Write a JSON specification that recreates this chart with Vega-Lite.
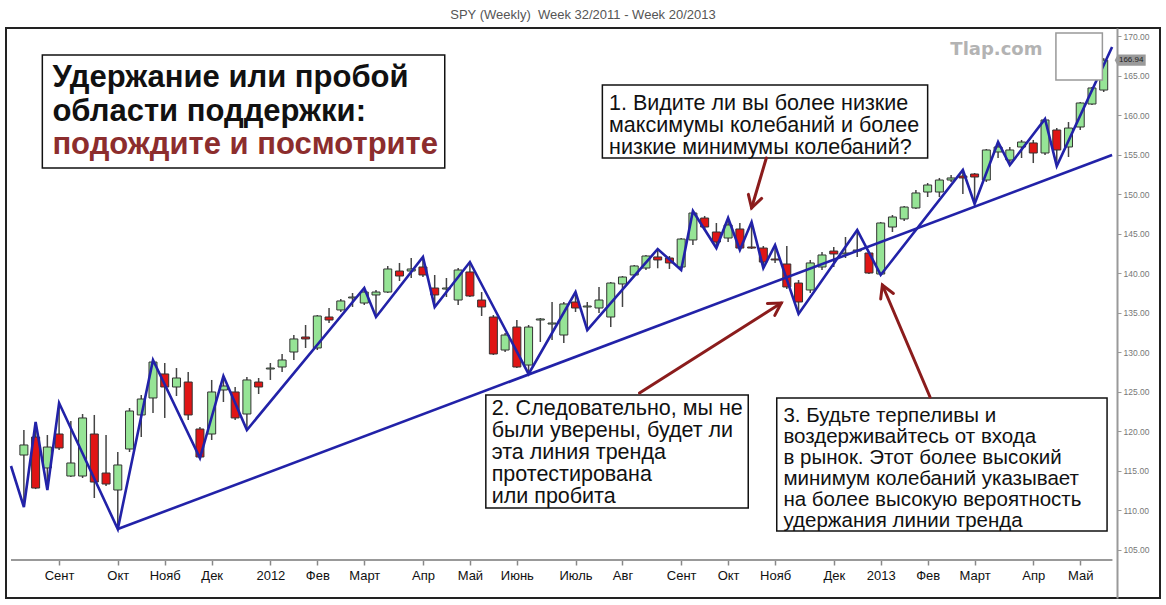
{
  "$schema": "https://vega.github.io/schema/vega-lite/v6.json",
  "width": 1154,
  "height": 570,
  "autosize": {"type": "none"},
  "padding": {"left": 6, "top": 28, "right": 6, "bottom": 7},
  "background": "white",
  "config": {"view": {"stroke": "#222", "strokeWidth": 2}, "font": "Liberation Sans"},
  "title": {"text": "SPY (Weekly)\u00a0 Week 32/2011 - Week 20/2013", "fontSize": 13, "fontWeight": "normal", "color": "#555", "font": "Liberation Sans", "offset": 6, "anchor": "middle"},
  "datasets": {
    "candles": [
      {"d":"2011-08-12","o":116.96,"h":120.13,"l":110.38,"c":118.23},
      {"d":"2011-08-19","o":119.24,"h":121.14,"l":112.65,"c":112.78},
      {"d":"2011-08-26","o":115.32,"h":119.49,"l":112.53,"c":117.97},
      {"d":"2011-09-02","o":119.62,"h":123.54,"l":117.59,"c":117.85},
      {"d":"2011-09-09","o":114.30,"h":121.27,"l":114.18,"c":115.95},
      {"d":"2011-09-16","o":114.30,"h":122.15,"l":114.05,"c":121.65},
      {"d":"2011-09-23","o":119.62,"h":122.03,"l":111.52,"c":113.54},
      {"d":"2011-09-30","o":114.68,"h":119.49,"l":113.04,"c":113.29},
      {"d":"2011-10-07","o":112.53,"h":117.34,"l":107.59,"c":115.70},
      {"d":"2011-10-14","o":117.72,"h":122.91,"l":117.34,"c":122.53},
      {"d":"2011-10-21","o":122.03,"h":124.56,"l":119.24,"c":124.05},
      {"d":"2011-10-28","o":124.18,"h":128.99,"l":122.28,"c":128.73},
      {"d":"2011-11-04","o":127.22,"h":128.61,"l":121.65,"c":125.57},
      {"d":"2011-11-11","o":125.57,"h":127.97,"l":124.43,"c":126.71},
      {"d":"2011-11-18","o":126.20,"h":127.47,"l":121.39,"c":122.03},
      {"d":"2011-11-25","o":120.25,"h":120.51,"l":116.58,"c":116.71},
      {"d":"2011-12-02","o":119.62,"h":126.46,"l":118.86,"c":124.94},
      {"d":"2011-12-09","o":125.19,"h":126.96,"l":123.67,"c":125.70},
      {"d":"2011-12-16","o":124.94,"h":125.57,"l":121.39,"c":121.65},
      {"d":"2011-12-23","o":122.15,"h":126.84,"l":120.13,"c":126.46},
      {"d":"2011-12-30","o":126.20,"h":126.71,"l":124.68,"c":125.57},
      {"d":"2012-01-06","o":127.85,"h":128.61,"l":126.46,"c":127.97},
      {"d":"2012-01-13","o":128.10,"h":129.75,"l":127.47,"c":128.99},
      {"d":"2012-01-20","o":130.00,"h":132.15,"l":128.99,"c":131.65},
      {"d":"2012-01-27","o":131.90,"h":133.42,"l":130.51,"c":131.65},
      {"d":"2012-02-03","o":130.51,"h":134.68,"l":130.25,"c":134.56},
      {"d":"2012-02-10","o":134.43,"h":135.57,"l":133.67,"c":134.05},
      {"d":"2012-02-17","o":135.32,"h":136.71,"l":135.06,"c":136.46},
      {"d":"2012-02-24","o":136.84,"h":137.47,"l":135.70,"c":136.96},
      {"d":"2012-03-02","o":136.20,"h":138.10,"l":135.95,"c":137.59},
      {"d":"2012-03-09","o":137.22,"h":137.85,"l":134.43,"c":137.59},
      {"d":"2012-03-16","o":137.59,"h":140.89,"l":137.47,"c":140.51},
      {"d":"2012-03-23","o":140.25,"h":141.27,"l":138.99,"c":139.62},
      {"d":"2012-03-30","o":140.25,"h":141.90,"l":139.37,"c":140.51},
      {"d":"2012-04-06","o":140.76,"h":142.03,"l":139.49,"c":139.75},
      {"d":"2012-04-13","o":138.10,"h":139.75,"l":135.70,"c":137.22},
      {"d":"2012-04-20","o":137.97,"h":139.37,"l":136.96,"c":138.10},
      {"d":"2012-04-27","o":136.58,"h":140.63,"l":135.95,"c":140.38},
      {"d":"2012-05-04","o":140.13,"h":141.39,"l":136.96,"c":137.09},
      {"d":"2012-05-11","o":136.58,"h":137.59,"l":134.56,"c":135.70},
      {"d":"2012-05-18","o":134.43,"h":134.68,"l":129.62,"c":129.75},
      {"d":"2012-05-25","o":130.25,"h":132.41,"l":130.00,"c":132.15},
      {"d":"2012-06-01","o":133.16,"h":134.05,"l":127.97,"c":128.10},
      {"d":"2012-06-08","o":128.35,"h":133.42,"l":127.22,"c":133.16},
      {"d":"2012-06-15","o":134.05,"h":134.30,"l":131.27,"c":134.18},
      {"d":"2012-06-22","o":133.54,"h":136.33,"l":131.52,"c":133.67},
      {"d":"2012-06-29","o":132.15,"h":136.33,"l":131.14,"c":136.08},
      {"d":"2012-07-06","o":136.33,"h":137.59,"l":135.06,"c":135.57},
      {"d":"2012-07-13","o":135.70,"h":136.33,"l":132.78,"c":135.82},
      {"d":"2012-07-20","o":135.57,"h":138.23,"l":134.94,"c":136.58},
      {"d":"2012-07-27","o":134.43,"h":138.86,"l":133.16,"c":138.73},
      {"d":"2012-08-03","o":138.61,"h":139.62,"l":135.70,"c":139.49},
      {"d":"2012-08-10","o":139.75,"h":141.01,"l":139.49,"c":140.89},
      {"d":"2012-08-17","o":140.63,"h":142.28,"l":140.38,"c":142.15},
      {"d":"2012-08-24","o":142.03,"h":143.04,"l":140.60,"c":141.65},
      {"d":"2012-08-31","o":141.90,"h":142.15,"l":140.51,"c":141.27},
      {"d":"2012-09-07","o":140.76,"h":144.43,"l":140.38,"c":144.30},
      {"d":"2012-09-14","o":144.18,"h":147.85,"l":143.54,"c":147.59},
      {"d":"2012-09-21","o":146.96,"h":147.22,"l":145.57,"c":145.82},
      {"d":"2012-09-28","o":145.19,"h":146.33,"l":143.16,"c":143.92},
      {"d":"2012-10-05","o":144.43,"h":146.96,"l":143.92,"c":146.08},
      {"d":"2012-10-12","o":145.57,"h":146.33,"l":142.91,"c":143.16},
      {"d":"2012-10-19","o":143.29,"h":146.46,"l":143.04,"c":143.16},
      {"d":"2012-10-26","o":143.16,"h":143.42,"l":140.63,"c":141.39},
      {"d":"2012-11-02","o":141.77,"h":143.54,"l":141.27,"c":141.65},
      {"d":"2012-11-09","o":141.14,"h":143.42,"l":137.97,"c":138.23},
      {"d":"2012-11-16","o":138.73,"h":139.11,"l":134.81,"c":136.33},
      {"d":"2012-11-23","o":137.85,"h":141.65,"l":137.47,"c":141.27},
      {"d":"2012-11-30","o":140.76,"h":142.66,"l":140.38,"c":142.28},
      {"d":"2012-12-07","o":142.78,"h":143.29,"l":140.76,"c":142.41},
      {"d":"2012-12-14","o":142.41,"h":144.56,"l":141.90,"c":142.53},
      {"d":"2012-12-21","o":142.78,"h":145.44,"l":142.03,"c":142.91},
      {"d":"2012-12-28","o":142.53,"h":142.66,"l":139.87,"c":140.00},
      {"d":"2013-01-04","o":139.87,"h":146.46,"l":139.75,"c":146.33},
      {"d":"2013-01-11","o":145.82,"h":147.34,"l":145.19,"c":147.09},
      {"d":"2013-01-18","o":146.84,"h":148.48,"l":146.58,"c":148.35},
      {"d":"2013-01-25","o":148.23,"h":150.51,"l":148.10,"c":150.13},
      {"d":"2013-02-01","o":150.25,"h":151.39,"l":149.62,"c":151.14},
      {"d":"2013-02-08","o":150.25,"h":152.03,"l":149.62,"c":151.77},
      {"d":"2013-02-15","o":151.77,"h":152.41,"l":151.52,"c":152.03},
      {"d":"2013-02-22","o":152.28,"h":153.04,"l":150.00,"c":152.03},
      {"d":"2013-03-01","o":152.53,"h":152.66,"l":148.73,"c":152.15},
      {"d":"2013-03-08","o":151.77,"h":155.70,"l":151.52,"c":155.57},
      {"d":"2013-03-15","o":155.32,"h":156.58,"l":154.56,"c":155.95},
      {"d":"2013-03-22","o":154.30,"h":155.95,"l":153.67,"c":155.57},
      {"d":"2013-03-29","o":155.95,"h":156.84,"l":154.56,"c":156.58},
      {"d":"2013-04-05","o":156.46,"h":156.84,"l":153.92,"c":155.19},
      {"d":"2013-04-12","o":155.19,"h":159.49,"l":154.94,"c":159.37},
      {"d":"2013-04-19","o":158.10,"h":158.35,"l":153.54,"c":155.57},
      {"d":"2013-04-26","o":155.95,"h":159.11,"l":154.68,"c":158.35},
      {"d":"2013-05-03","o":158.48,"h":161.65,"l":158.10,"c":161.52},
      {"d":"2013-05-10","o":161.39,"h":163.54,"l":161.27,"c":163.42},
      {"d":"2013-05-17","o":163.16,"h":167.20,"l":162.91,"c":166.94}
    ],
    "zig": [
      {"d":"2011-08-04T07:32:00Z","v":115.57},
      {"d":"2011-08-12","v":110.38},
      {"d":"2011-08-19","v":121.14},
      {"d":"2011-08-26","v":112.53},
      {"d":"2011-09-02","v":123.54},
      {"d":"2011-10-07","v":107.59},
      {"d":"2011-10-28","v":128.99},
      {"d":"2011-11-25","v":116.58},
      {"d":"2011-12-09","v":126.96},
      {"d":"2011-12-23","v":120.13},
      {"d":"2012-03-02","v":138.10},
      {"d":"2012-03-09","v":134.43},
      {"d":"2012-04-06","v":142.03},
      {"d":"2012-04-13","v":135.70},
      {"d":"2012-05-04","v":141.39},
      {"d":"2012-06-08","v":127.22},
      {"d":"2012-07-06","v":137.59},
      {"d":"2012-07-13","v":132.78},
      {"d":"2012-08-24","v":143.04},
      {"d":"2012-09-07","v":140.38},
      {"d":"2012-09-14","v":147.85},
      {"d":"2012-09-28","v":143.16},
      {"d":"2012-10-05","v":146.96},
      {"d":"2012-10-12","v":142.91},
      {"d":"2012-10-19","v":146.46},
      {"d":"2012-10-26","v":140.63},
      {"d":"2012-11-02","v":143.54},
      {"d":"2012-11-16","v":134.81},
      {"d":"2012-12-21","v":145.44},
      {"d":"2013-01-04","v":139.75},
      {"d":"2013-02-22","v":153.04},
      {"d":"2013-03-01","v":148.73},
      {"d":"2013-03-15","v":156.58},
      {"d":"2013-03-22","v":153.67},
      {"d":"2013-04-12","v":159.49},
      {"d":"2013-04-19","v":153.54},
      {"d":"2013-05-22","v":168.6}
    ],
    "trend": [
      {"d":"2011-10-07","v":107.59},
      {"d":"2013-05-22","v":154.94}
    ],
    "axisline": [
      {"d":"2011-08-04T07:32:00Z","d2":"2013-05-22T05:00:00Z","v":103.67}
    ],
    "boxes": [
      {"d":"2011-08-23","d2":"2012-04-19","v":167.59,"v2":153.29},
      {"d":"2012-07-22","d2":"2013-02-01","v":163.80,"v2":154.56},
      {"d":"2012-05-13T12:00:00Z","d2":"2012-10-17","v":124.56,"v2":110.25},
      {"d":"2012-11-03","d2":"2013-05-19","v":124.18,"v2":107.34}
    ],
    "notes": [
      {"g":"h","d":"2011-08-29","v":164.68,"t":"Удержание или пробой\nобласти поддержки:"},
      {"g":"r","d":"2011-08-29","v":156.20,"t":"подождите и посмотрите"},
      {"g":"n1","d":"2012-07-26","v":161.45,"t":"1. Видите ли вы более низкие\nмаксимумы колебаний и более\nнизкие минимумы колебаний?"},
      {"g":"n2","d":"2012-05-17","v":122.78,"t":"2. Следовательно, мы не\nбыли уверены, будет ли\nэта линия тренда\nпротестирована\nили пробита"},
      {"g":"n3","d":"2012-11-07","v":121.90,"t":"3. Будьте терпеливы и\nвоздерживайтесь от входа\nв рынок. Этот более высокий\nминимум колебаний указывает\nна более высокую вероятность\nудержания линии тренда"}
    ],
    "arrows": [
      {"p":"a1","k":1,"d":"2012-10-27T19:00:00Z","v":154.56},
      {"p":"a1","k":2,"d":"2012-10-19","v":148.23},
      {"p":"h1","k":1,"d":"2012-10-25","v":149.44},
      {"p":"h1","k":2,"d":"2012-10-19","v":148.23},
      {"p":"h1","k":3,"d":"2012-10-17T01:40:00Z","v":149.95},
      {"p":"a2","k":1,"d":"2012-08-13T03:36:00Z","v":124.81},
      {"p":"a2","k":2,"d":"2012-11-05T17:00:00Z","v":136.20},
      {"p":"h2","k":1,"d":"2012-10-28T10:00:00Z","v":136.14},
      {"p":"h2","k":2,"d":"2012-11-05T17:00:00Z","v":136.20},
      {"p":"h2","k":3,"d":"2012-11-01T20:00:00Z","v":134.63},
      {"p":"a3","k":1,"d":"2013-02-02T10:00:00Z","v":124.30},
      {"p":"a3","k":2,"d":"2013-01-05","v":138.48},
      {"p":"h3","k":1,"d":"2013-01-04","v":136.72},
      {"p":"h3","k":2,"d":"2013-01-05","v":138.48},
      {"p":"h3","k":3,"d":"2013-01-11T14:00:00Z","v":137.41}
    ],
    "wm": [{"d":"2013-03-14","v":168.23,"t":"Tlap.com"}],
    "wbox": [{"d":"2013-04-18T12:00:00Z","d2":"2013-05-16T05:00:00Z","v":170.38,"v2":164.43}],
    "tag": [{"d":"2013-06-01T19:00:00Z","v":166.94,"t":"166.94"}]
  },
  "encoding": {
    "x": {
      "field": "d", "type": "temporal",
      "scale": {"type": "utc", "nice": false, "domain": [{"year":2011,"month":8,"date":4,"hours":7,"minutes":32,"utc":true},{"year":2013,"month":6,"date":16,"hours":14,"minutes":10,"utc":true}]},
      "axis": {
        "orient": "bottom", "offset": -38, "title": null, "grid": false, "domain": false,
        "values": [
          {"year":2011,"month":9,"date":2,"utc":true},{"year":2011,"month":10,"date":7,"utc":true},{"year":2011,"month":11,"date":4,"utc":true},{"year":2011,"month":12,"date":2,"utc":true},
          {"year":2012,"month":1,"date":6,"utc":true},{"year":2012,"month":2,"date":3,"utc":true},{"year":2012,"month":3,"date":2,"utc":true},{"year":2012,"month":4,"date":6,"utc":true},{"year":2012,"month":5,"date":4,"utc":true},{"year":2012,"month":6,"date":1,"utc":true},{"year":2012,"month":7,"date":6,"utc":true},{"year":2012,"month":8,"date":3,"utc":true},{"year":2012,"month":9,"date":7,"utc":true},{"year":2012,"month":10,"date":5,"utc":true},{"year":2012,"month":11,"date":2,"utc":true},{"year":2012,"month":12,"date":7,"utc":true},
          {"year":2013,"month":1,"date":4,"utc":true},{"year":2013,"month":2,"date":1,"utc":true},{"year":2013,"month":3,"date":1,"utc":true},{"year":2013,"month":4,"date":5,"utc":true},{"year":2013,"month":5,"date":3,"utc":true}
        ],
        "labelExpr": "utcmonth(datum.value) == 0 ? utcFormat(datum.value, '%Y') : ['Янв','Фев','Март','Апр','Май','Июнь','Июль','Авг','Сент','Окт','Нояб','Дек'][utcmonth(datum.value)]",
        "labelOverlap": false, "labelFlush": false,
        "tickSize": 5, "tickColor": "#888", "tickWidth": 1.5,
        "labelFont": "Liberation Sans", "labelFontSize": 13, "labelColor": "#111", "labelPadding": 4
      }
    }
  },
  "layer": [
    {
      "data": {"name": "candles"},
      "mark": {"type": "rule", "color": "#444", "strokeWidth": 1.5},
      "encoding": {
        "y": {"field": "l", "type": "quantitative", "scale": {"domain": [98.8608, 171.0127], "nice": false, "zero": false},
          "axis": {"orient": "right", "offset": -43, "title": null, "grid": false, "values": [105,110,115,120,125,130,135,140,145,150,155,160,165,170], "format": ".2f", "labelFont": "Liberation Sans", "labelFontSize": 8.5, "labelColor": "#777", "tickSize": 4, "tickColor": "#999", "domainColor": "#999", "domainWidth": 2, "labelPadding": 2}},
        "y2": {"field": "h"}
      }
    },
    {
      "data": {"name": "candles"},
      "mark": {"type": "bar", "width": 8, "stroke": "#333", "strokeWidth": 1},
      "encoding": {
        "y": {"field": "o", "type": "quantitative", "scale": {"domain": [98.8608, 171.0127], "nice": false, "zero": false},
          "axis": {"orient": "right", "offset": -43, "title": null, "grid": false, "values": [105,110,115,120,125,130,135,140,145,150,155,160,165,170], "format": ".2f", "labelFont": "Liberation Sans", "labelFontSize": 8.5, "labelColor": "#777", "tickSize": 4, "tickColor": "#999", "domainColor": "#999", "domainWidth": 2, "labelPadding": 2}},
        "y2": {"field": "c"},
        "fill": {"condition": {"test": "datum.c >= datum.o", "value": "#96e496"}, "value": "#e01515"}
      }
    },
    {
      "data": {"name": "zig"},
      "mark": {"type": "line", "color": "#2222a8", "strokeWidth": 2.6},
      "encoding": {"y": {"field": "v", "type": "quantitative", "scale": {"domain": [98.8608, 171.0127], "nice": false, "zero": false},
          "axis": {"orient": "right", "offset": -43, "title": null, "grid": false, "values": [105,110,115,120,125,130,135,140,145,150,155,160,165,170], "format": ".2f", "labelFont": "Liberation Sans", "labelFontSize": 8.5, "labelColor": "#777", "tickSize": 4, "tickColor": "#999", "domainColor": "#999", "domainWidth": 2, "labelPadding": 2}}}
    },
    {
      "data": {"name": "trend"},
      "mark": {"type": "line", "color": "#2222a8", "strokeWidth": 2.6},
      "encoding": {"y": {"field": "v", "type": "quantitative", "scale": {"domain": [98.8608, 171.0127], "nice": false, "zero": false},
          "axis": {"orient": "right", "offset": -43, "title": null, "grid": false, "values": [105,110,115,120,125,130,135,140,145,150,155,160,165,170], "format": ".2f", "labelFont": "Liberation Sans", "labelFontSize": 8.5, "labelColor": "#777", "tickSize": 4, "tickColor": "#999", "domainColor": "#999", "domainWidth": 2, "labelPadding": 2}}}
    },
    {
      "data": {"name": "axisline"},
      "mark": {"type": "rule", "color": "#999", "strokeWidth": 2},
      "encoding": {"x2": {"field": "d2"}, "y": {"field": "v", "type": "quantitative", "scale": {"domain": [98.8608, 171.0127], "nice": false, "zero": false},
          "axis": {"orient": "right", "offset": -43, "title": null, "grid": false, "values": [105,110,115,120,125,130,135,140,145,150,155,160,165,170], "format": ".2f", "labelFont": "Liberation Sans", "labelFontSize": 8.5, "labelColor": "#777", "tickSize": 4, "tickColor": "#999", "domainColor": "#999", "domainWidth": 2, "labelPadding": 2}}}
    },
    {
      "data": {"name": "boxes"},
      "mark": {"type": "rect", "fill": "white", "stroke": "#111", "strokeWidth": 1.5},
      "encoding": {"x2": {"field": "d2"}, "y": {"field": "v", "type": "quantitative", "scale": {"domain": [98.8608, 171.0127], "nice": false, "zero": false},
          "axis": {"orient": "right", "offset": -43, "title": null, "grid": false, "values": [105,110,115,120,125,130,135,140,145,150,155,160,165,170], "format": ".2f", "labelFont": "Liberation Sans", "labelFontSize": 8.5, "labelColor": "#777", "tickSize": 4, "tickColor": "#999", "domainColor": "#999", "domainWidth": 2, "labelPadding": 2}}, "y2": {"field": "v2"}}
    },
    {
      "data": {"name": "notes"},
      "transform": [{"filter": "datum.g == 'h'"}],
      "mark": {"type": "text", "align": "left", "baseline": "middle", "lineBreak": "\n", "lineHeight": 34, "font": "Liberation Sans", "fontWeight": "bold", "fontSize": 31, "color": "#111"},
      "encoding": {"y": {"field": "v", "type": "quantitative", "scale": {"domain": [98.8608, 171.0127], "nice": false, "zero": false},
          "axis": {"orient": "right", "offset": -43, "title": null, "grid": false, "values": [105,110,115,120,125,130,135,140,145,150,155,160,165,170], "format": ".2f", "labelFont": "Liberation Sans", "labelFontSize": 8.5, "labelColor": "#777", "tickSize": 4, "tickColor": "#999", "domainColor": "#999", "domainWidth": 2, "labelPadding": 2}}, "text": {"field": "t"}}
    },
    {
      "data": {"name": "notes"},
      "transform": [{"filter": "datum.g == 'r'"}],
      "mark": {"type": "text", "align": "left", "baseline": "middle", "font": "Liberation Sans", "fontWeight": "bold", "fontSize": 31, "color": "#8c2d2d"},
      "encoding": {"y": {"field": "v", "type": "quantitative", "scale": {"domain": [98.8608, 171.0127], "nice": false, "zero": false},
          "axis": {"orient": "right", "offset": -43, "title": null, "grid": false, "values": [105,110,115,120,125,130,135,140,145,150,155,160,165,170], "format": ".2f", "labelFont": "Liberation Sans", "labelFontSize": 8.5, "labelColor": "#777", "tickSize": 4, "tickColor": "#999", "domainColor": "#999", "domainWidth": 2, "labelPadding": 2}}, "text": {"field": "t"}}
    },
    {
      "data": {"name": "notes"},
      "transform": [{"filter": "datum.g == 'n1'"}],
      "mark": {"type": "text", "align": "left", "baseline": "middle", "lineBreak": "\n", "lineHeight": 22, "font": "Liberation Sans", "fontSize": 21.5, "color": "#111"},
      "encoding": {"y": {"field": "v", "type": "quantitative", "scale": {"domain": [98.8608, 171.0127], "nice": false, "zero": false},
          "axis": {"orient": "right", "offset": -43, "title": null, "grid": false, "values": [105,110,115,120,125,130,135,140,145,150,155,160,165,170], "format": ".2f", "labelFont": "Liberation Sans", "labelFontSize": 8.5, "labelColor": "#777", "tickSize": 4, "tickColor": "#999", "domainColor": "#999", "domainWidth": 2, "labelPadding": 2}}, "text": {"field": "t"}}
    },
    {
      "data": {"name": "notes"},
      "transform": [{"filter": "datum.g == 'n2'"}],
      "mark": {"type": "text", "align": "left", "baseline": "middle", "lineBreak": "\n", "lineHeight": 22, "font": "Liberation Sans", "fontSize": 21.5, "color": "#111"},
      "encoding": {"y": {"field": "v", "type": "quantitative", "scale": {"domain": [98.8608, 171.0127], "nice": false, "zero": false},
          "axis": {"orient": "right", "offset": -43, "title": null, "grid": false, "values": [105,110,115,120,125,130,135,140,145,150,155,160,165,170], "format": ".2f", "labelFont": "Liberation Sans", "labelFontSize": 8.5, "labelColor": "#777", "tickSize": 4, "tickColor": "#999", "domainColor": "#999", "domainWidth": 2, "labelPadding": 2}}, "text": {"field": "t"}}
    },
    {
      "data": {"name": "notes"},
      "transform": [{"filter": "datum.g == 'n3'"}],
      "mark": {"type": "text", "align": "left", "baseline": "middle", "lineBreak": "\n", "lineHeight": 21, "font": "Liberation Sans", "fontSize": 20.5, "color": "#111"},
      "encoding": {"y": {"field": "v", "type": "quantitative", "scale": {"domain": [98.8608, 171.0127], "nice": false, "zero": false},
          "axis": {"orient": "right", "offset": -43, "title": null, "grid": false, "values": [105,110,115,120,125,130,135,140,145,150,155,160,165,170], "format": ".2f", "labelFont": "Liberation Sans", "labelFontSize": 8.5, "labelColor": "#777", "tickSize": 4, "tickColor": "#999", "domainColor": "#999", "domainWidth": 2, "labelPadding": 2}}, "text": {"field": "t"}}
    },
    {
      "data": {"name": "arrows"},
      "mark": {"type": "line", "color": "#8b1c1c", "strokeWidth": 3, "strokeCap": "round", "strokeJoin": "miter"},
      "encoding": {"y": {"field": "v", "type": "quantitative", "scale": {"domain": [98.8608, 171.0127], "nice": false, "zero": false},
          "axis": {"orient": "right", "offset": -43, "title": null, "grid": false, "values": [105,110,115,120,125,130,135,140,145,150,155,160,165,170], "format": ".2f", "labelFont": "Liberation Sans", "labelFontSize": 8.5, "labelColor": "#777", "tickSize": 4, "tickColor": "#999", "domainColor": "#999", "domainWidth": 2, "labelPadding": 2}}, "detail": {"field": "p"}, "order": {"field": "k"}}
    },
    {
      "data": {"name": "wm"},
      "mark": {"type": "text", "align": "center", "baseline": "middle", "font": "DejaVu Sans", "fontWeight": "bold", "fontSize": 18, "color": "#b3b3b3"},
      "encoding": {"y": {"field": "v", "type": "quantitative", "scale": {"domain": [98.8608, 171.0127], "nice": false, "zero": false},
          "axis": {"orient": "right", "offset": -43, "title": null, "grid": false, "values": [105,110,115,120,125,130,135,140,145,150,155,160,165,170], "format": ".2f", "labelFont": "Liberation Sans", "labelFontSize": 8.5, "labelColor": "#777", "tickSize": 4, "tickColor": "#999", "domainColor": "#999", "domainWidth": 2, "labelPadding": 2}}, "text": {"field": "t"}}
    },
    {
      "data": {"name": "wbox"},
      "mark": {"type": "rect", "fill": "white", "stroke": "#999", "strokeWidth": 1.5},
      "encoding": {"x2": {"field": "d2"}, "y": {"field": "v", "type": "quantitative", "scale": {"domain": [98.8608, 171.0127], "nice": false, "zero": false},
          "axis": {"orient": "right", "offset": -43, "title": null, "grid": false, "values": [105,110,115,120,125,130,135,140,145,150,155,160,165,170], "format": ".2f", "labelFont": "Liberation Sans", "labelFontSize": 8.5, "labelColor": "#777", "tickSize": 4, "tickColor": "#999", "domainColor": "#999", "domainWidth": 2, "labelPadding": 2}}, "y2": {"field": "v2"}}
    },
    {
      "data": {"name": "tag"},
      "mark": {"type": "point", "filled": true, "shape": "M-1,0 L-0.8,-0.36 L1,-0.36 L1,0.36 L-0.8,0.36 Z", "size": 961, "color": "#9a9a9a", "opacity": 1},
      "encoding": {"y": {"field": "v", "type": "quantitative", "scale": {"domain": [98.8608, 171.0127], "nice": false, "zero": false},
          "axis": {"orient": "right", "offset": -43, "title": null, "grid": false, "values": [105,110,115,120,125,130,135,140,145,150,155,160,165,170], "format": ".2f", "labelFont": "Liberation Sans", "labelFontSize": 8.5, "labelColor": "#777", "tickSize": 4, "tickColor": "#999", "domainColor": "#999", "domainWidth": 2, "labelPadding": 2}}}
    },
    {
      "data": {"name": "tag"},
      "mark": {"type": "text", "align": "center", "baseline": "middle", "font": "Liberation Sans", "fontSize": 8, "color": "#222", "dx": 1},
      "encoding": {"y": {"field": "v", "type": "quantitative", "scale": {"domain": [98.8608, 171.0127], "nice": false, "zero": false},
          "axis": {"orient": "right", "offset": -43, "title": null, "grid": false, "values": [105,110,115,120,125,130,135,140,145,150,155,160,165,170], "format": ".2f", "labelFont": "Liberation Sans", "labelFontSize": 8.5, "labelColor": "#777", "tickSize": 4, "tickColor": "#999", "domainColor": "#999", "domainWidth": 2, "labelPadding": 2}}, "text": {"field": "t"}}
    }
  ]
}
